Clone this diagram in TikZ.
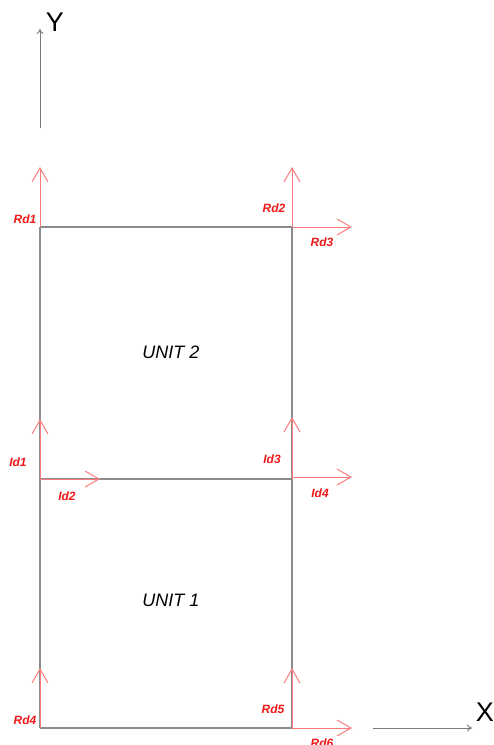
\documentclass[tikz,border=0pt]{standalone}
\usepackage{fontspec}
\setmainfont{Liberation Sans}
\usetikzlibrary{arrows.meta}
\definecolor{frameg}{HTML}{8C8C8C}
\definecolor{axisg}{HTML}{7A7A7A}
\definecolor{arrred}{HTML}{FF7A7A}
\definecolor{labred}{HTML}{F01818}
\tikzset{
  frame/.style={draw=frameg, line width=1.1pt},
  axisline/.style={draw=axisg, line width=0.9pt, -{To[length=5pt,width=7pt]}},
  force/.style={draw=arrred, line width=1pt, -{Straight Barb[length=14pt,width=16pt,line width=1pt]}},
  flabel/.style={text=labred, font=\fontsize{12}{12}\selectfont\bfseries\itshape, inner sep=0pt},
  unitlabel/.style={text=black, font=\fontsize{18}{18}\selectfont\itshape, inner sep=0pt},
  axlabel/.style={text=black, font=\fontsize{27}{27}\selectfont, inner sep=0pt}
}
\begin{document}
\begin{tikzpicture}[x=1pt,y=-1pt]
\useasboundingbox (0,0) rectangle (494,745);
% corners
\coordinate (A) at (40,227);
\coordinate (B) at (292,227);
\coordinate (C) at (40,479);
\coordinate (D) at (292,479);
\coordinate (E) at (40,728);
\coordinate (F) at (292,728);
% force tips
\coordinate (Rd1t) at (40,167);
\coordinate (Rd2t) at (292,167);
\coordinate (Rd3t) at (352,227);
\coordinate (Id1t) at (40,419);
\coordinate (Id2t) at (100,479);
\coordinate (Id3t) at (292,417);
\coordinate (D4) at (292,477);
\coordinate (Id4t) at (352,477);
\coordinate (Rd4t) at (40,668);
\coordinate (Rd5t) at (292,668);
\coordinate (Rd6t) at (352,728);
% axes
\coordinate (Y0) at (40,128);
\coordinate (Y1) at (40,29);
\coordinate (X0) at (373,728);
\coordinate (X1) at (472,728);
\draw[axisline] (Y0) -- (Y1);
\draw[axisline] (X0) -- (X1);
\node[axlabel] (Ylab) at (55,22) {Y};
\node[axlabel] (Xlab) at (485,712) {X};
% frame
\draw[frame] (A) -- (B);
\draw[frame] (C) -- (D);
\draw[frame] (E) -- (F);
\draw[frame] (A) -- (E);
\draw[frame] (B) -- (F);
% forces
\draw[force] (A) -- (Rd1t);
\draw[force] (B) -- (Rd2t);
\draw[force] (B) -- (Rd3t);
\draw[force] (C) -- (Id1t);
\draw[force] (C) -- (Id2t);
\draw[force] (D) -- (Id3t);
\draw[force] (D4) -- (Id4t);
\draw[force] (E) -- (Rd4t);
\draw[force] (F) -- (Rd5t);
\draw[force] (F) -- (Rd6t);
% labels
\node[flabel] (lRd1) at (25,219) {Rd1};
\node[flabel] (lRd2) at (274,208) {Rd2};
\node[flabel] (lRd3) at (322,242) {Rd3};
\node[flabel] (lId1) at (18,462) {Id1};
\node[flabel] (lId2) at (67,496) {Id2};
\node[flabel] (lId3) at (272,459) {Id3};
\node[flabel] (lId4) at (320,493) {Id4};
\node[flabel] (lRd4) at (25,720) {Rd4};
\node[flabel] (lRd5) at (273,709) {Rd5};
\node[flabel] (lRd6) at (322,743) {Rd6};
\node[unitlabel] (u2) at (171,352) {UNIT 2};
\node[unitlabel] (u1) at (171,600) {UNIT 1};
\end{tikzpicture}
\end{document}
